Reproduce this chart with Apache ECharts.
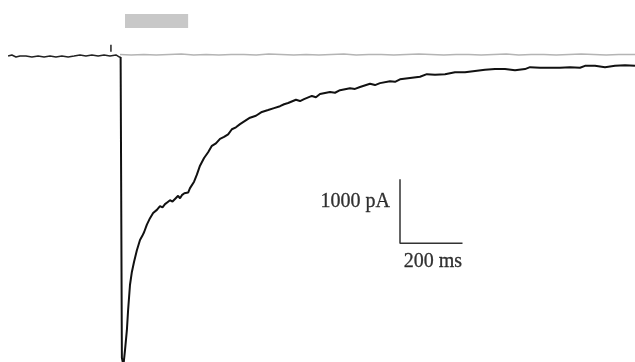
<!DOCTYPE html>
<html>
<head>
<meta charset="utf-8">
<script src="https://cdn.jsdelivr.net/npm/echarts@6/dist/echarts.min.js"></script>
<style>
  html, body { margin: 0; padding: 0; background: #fff; }
  #chart { width: 635px; height: 362px; }
</style>
</head>
<body>
<div id="chart"></div>
<script>
// time in ms, current in pA
var preTime = [26, 38, 51, 64, 83, 102, 122, 141, 160, 179, 198, 218, 237, 256, 275, 294, 314, 333, 352, 371, 381, 386];
var preCurrent = [-16, 0, -31, -16, -16, -31, -16, -31, -16, -31, -16, -31, -16, 0, -16, 0, -16, 0, -16, 0, -31, -31];

var traceTime = [386, 390, 395, 400, 406, 410, 416, 422, 429, 438, 448, 455, 461, 470, 480, 490, 502, 512, 520, 528, 536, 544,
  552, 560, 570, 576, 582, 590, 595, 602, 608, 621, 630, 640, 653, 666, 678, 691, 704, 717, 730, 742, 755, 768,
  784, 800, 819, 838, 858, 877, 896, 909, 922, 947, 960, 973, 998, 1011, 1024, 1056, 1072, 1088, 1120, 1136, 1152, 1184,
  1200, 1216, 1248, 1264, 1280, 1312, 1344, 1366, 1392, 1424, 1456, 1488, 1520, 1552, 1584, 1616, 1648, 1680,
  1696, 1728, 1760, 1792, 1824, 1856, 1872, 1904, 1936, 1968, 2000, 2032];
var traceCurrent = [-31, -4730, -4850, -4610, -4300, -3980, -3590, -3390, -3230, -3050, -2890, -2830, -2770, -2650, -2550, -2470,
  -2420, -2360, -2380, -2330, -2300, -2270, -2290, -2250, -2200, -2240, -2190, -2160, -2130, -2150, -2080, -1980, -1870, -1730,
  -1610, -1520, -1420, -1380, -1310, -1280, -1240, -1160, -1130, -1080, -1030, -980, -950, -890, -860, -830, -800, -770, -750,
  -700, -720, -690, -640, -660, -610, -580, -590, -550, -520, -530, -500, -450, -470, -440, -410, -420, -380, -360, -340,
  -300, -310, -300, -270, -270, -250, -230, -220, -220, -240, -220, -190, -200, -200, -200, -190, -200, -170, -170, -190,
  -170, -160, -170];

var baseTime = [384, 420, 460, 500, 540, 580, 620, 660, 700, 740, 780, 820, 860, 900, 940, 980, 1020, 1060, 1100, 1140,
  1180, 1220, 1260, 1300, 1340, 1380, 1420, 1460, 1500, 1540, 1580, 1620, 1660, 1700, 1740, 1780, 1820, 1860, 1900,
  1940, 1980, 2032];
var baseCurrent = [8, 0, 8, 0, 8, 16, 0, 8, 0, 8, 8, 0, 16, 8, 0, 8, 0, 8, 16, 0, 8, 8, 0, 8, 16, 8, 0, 8, 8, 0, 8, 16,
  0, 8, 8, 0, 8, 16, 8, 0, 8, 8];

var stimulusStart = [400, 641];
var stimulusEnd = [602, 422];
var markTime = [355, 355];
var markCurrent = [160, 50];

var scaleTime = [1280, 1280, 1480];
var scaleCurrent = [-1940, -2940, -2940];
var scaleLabels = ['1000 pA', '200 ms'];

function pairs(xs, ys) {
  return xs.map(function (x, i) { return [x, ys[i]]; });
}

var myChart = echarts.init(document.getElementById('chart'));

var option = {
  animation: false,
  backgroundColor: '#ffffff',
  grid: { left: 0, right: 0, top: 0, bottom: 0 },
  xAxis: { type: 'value', min: 0, max: 2032, show: false },
  yAxis: { type: 'value', min: -4797, max: 859, show: false },
  series: [
    {
      type: 'line',
      data: pairs(baseTime, baseCurrent),
      symbol: 'none',
      lineStyle: { color: '#b4b4b4', width: 1.5 },
      markArea: {
        silent: true,
        itemStyle: { color: '#c8c8c8' },
        data: [[{ coord: stimulusStart }, { coord: stimulusEnd }]]
      }
    },
    {
      type: 'line',
      data: pairs(preTime, preCurrent),
      symbol: 'none',
      lineStyle: { color: '#222', width: 1.5 }
    },
    {
      type: 'line',
      data: pairs(markTime, markCurrent),
      symbol: 'none',
      lineStyle: { color: '#222', width: 1.5 }
    },
    {
      type: 'line',
      data: pairs(traceTime, traceCurrent),
      symbol: 'none',
      lineStyle: { color: '#111', width: 2 }
    },
    {
      type: 'line',
      data: pairs(scaleTime, scaleCurrent),
      symbol: 'none',
      lineStyle: { color: '#333', width: 1.5 }
    },
    {
      type: 'scatter',
      symbolSize: 0,
      data: [
        { value: [scaleTime[0], (scaleCurrent[0] + scaleCurrent[1]) / 2 + 140],
          label: { show: true, position: 'left', distance: 10, formatter: scaleLabels[0] } },
        { value: [(scaleTime[1] + scaleTime[2]) / 2 + 5, scaleCurrent[2]],
          label: { show: true, position: 'bottom', distance: 9, formatter: scaleLabels[1] } }
      ],
      label: {
        fontFamily: 'Liberation Serif',
        fontSize: 20,
        color: '#000',
        textBorderColor: '#000',
        textBorderWidth: 0.3
      }
    }
  ]
};

myChart.setOption(option);
</script>
</body>
</html>
